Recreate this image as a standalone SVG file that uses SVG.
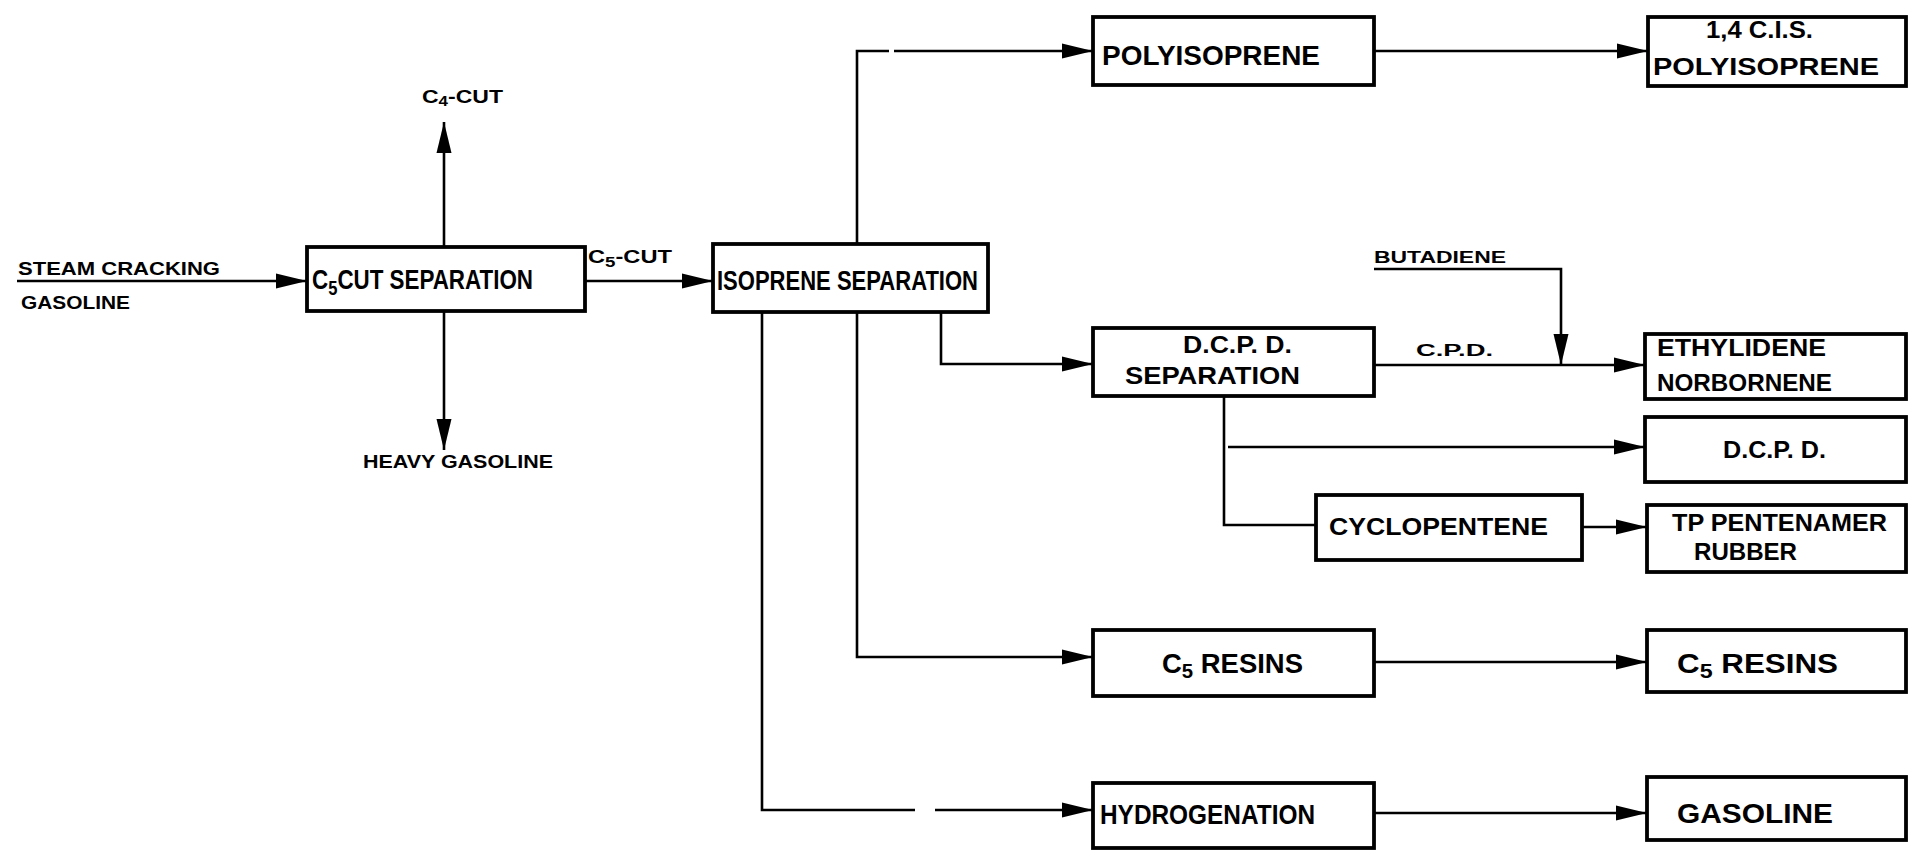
<svg xmlns="http://www.w3.org/2000/svg" width="1910" height="854" viewBox="0 0 1910 854">
<style>
.box{fill:#fff;stroke:#000;stroke-width:3.8}
.ln{fill:none;stroke:#000;stroke-width:2.6}
.ar{marker-end:url(#ah)}
text{font-family:"Liberation Sans","DejaVu Sans",sans-serif;font-weight:bold;fill:#000}
.bt{font-size:27px}
.bt2{font-size:23px}
.lb{font-size:19px}
.sm{font-size:16px}
</style>
<defs>
<marker id="ah" markerUnits="userSpaceOnUse" markerWidth="34" markerHeight="18" refX="31" refY="9" orient="auto">
<path d="M0,1.5 L31,9 L0,16.5 z" fill="#000"/>
</marker>
</defs>
<rect width="1910" height="854" fill="#fff"/>

<g id="connectors">
<line class="ln ar" x1="17" y1="281" x2="307" y2="281"/>
<line class="ln ar" x1="444" y1="247" x2="444" y2="122"/>
<line class="ln ar" x1="444" y1="311" x2="444" y2="450"/>
<line class="ln ar" x1="585" y1="281" x2="713" y2="281"/>
<polyline class="ln" points="857,243 857,51 889,51"/>
<line class="ln ar" x1="894" y1="51" x2="1093" y2="51"/>
<line class="ln ar" x1="1374" y1="51" x2="1648" y2="51"/>
<polyline class="ln ar" points="941,313 941,364 1093,364"/>
<line class="ln ar" x1="1374" y1="365" x2="1645" y2="365"/>
<polyline class="ln ar" points="1374,269 1561,269 1561,365"/>
<polyline class="ln" points="1224,397 1224,525 1316,525"/>
<line class="ln ar" x1="1228" y1="447" x2="1645" y2="447"/>
<line class="ln ar" x1="1582" y1="527" x2="1647" y2="527"/>
<polyline class="ln ar" points="857,313 857,657 1093,657"/>
<line class="ln ar" x1="1374" y1="662" x2="1647" y2="662"/>
<polyline class="ln" points="762,313 762,810 915,810"/>
<line class="ln ar" x1="935" y1="810" x2="1093" y2="810"/>
<line class="ln ar" x1="1374" y1="813" x2="1647" y2="813"/>
</g>

<g id="labels">
<text class="lb" x="18" y="275" textLength="202" lengthAdjust="spacingAndGlyphs">STEAM CRACKING</text>
<text class="lb" x="21" y="309" textLength="109" lengthAdjust="spacingAndGlyphs">GASOLINE</text>
<text class="lb" x="422" y="103" textLength="81" lengthAdjust="spacingAndGlyphs">C<tspan font-size="14" dy="3">4</tspan><tspan dy="-3">-CUT</tspan></text>
<text class="lb" x="363" y="468" textLength="190" lengthAdjust="spacingAndGlyphs">HEAVY GASOLINE</text>
<text class="lb" x="588" y="263" textLength="84" lengthAdjust="spacingAndGlyphs">C<tspan font-size="15" dy="4">5</tspan><tspan dy="-4">-CUT</tspan></text>
<text class="sm" x="1374" y="263" textLength="132" lengthAdjust="spacingAndGlyphs">BUTADIENE</text>
<text class="sm" x="1416" y="356" textLength="77" lengthAdjust="spacingAndGlyphs">C.P.D.</text>
</g>

<g id="c5cut">
<rect class="box" x="307" y="247" width="278" height="64"/>
<text class="bt" x="312" y="289" textLength="221" lengthAdjust="spacingAndGlyphs">C<tspan font-size="20" dy="6">5</tspan><tspan dy="-6">CUT SEPARATION</tspan></text>
</g>
<g id="isoprene">
<rect class="box" x="713" y="244" width="275" height="68"/>
<text class="bt" x="717" y="290" textLength="261" lengthAdjust="spacingAndGlyphs">ISOPRENE SEPARATION</text>
</g>
<g id="polyisoprene">
<rect class="box" x="1093" y="17" width="281" height="68"/>
<text class="bt" x="1102" y="65" textLength="218" lengthAdjust="spacingAndGlyphs">POLYISOPRENE</text>
</g>
<g id="cis">
<rect class="box" x="1648" y="17" width="258" height="69"/>
<text class="bt2" x="1706" y="38" textLength="107" lengthAdjust="spacingAndGlyphs">1,4 C.I.S.</text>
<text class="bt2" x="1653" y="75" textLength="226" lengthAdjust="spacingAndGlyphs">POLYISOPRENE</text>
</g>
<g id="dcpdsep">
<rect class="box" x="1093" y="328" width="281" height="68"/>
<text class="bt2" x="1183" y="353" textLength="109" lengthAdjust="spacingAndGlyphs">D.C.P. D.</text>
<text class="bt2" x="1125" y="384" textLength="175" lengthAdjust="spacingAndGlyphs">SEPARATION</text>
</g>
<g id="enb">
<rect class="box" x="1645" y="334" width="261" height="65"/>
<text class="bt2" x="1657" y="356" textLength="169" lengthAdjust="spacingAndGlyphs">ETHYLIDENE</text>
<text class="bt2" x="1657" y="391" textLength="175" lengthAdjust="spacingAndGlyphs">NORBORNENE</text>
</g>
<g id="dcpd">
<rect class="box" x="1645" y="417" width="261" height="65"/>
<text class="bt2" x="1723" y="458" textLength="103" lengthAdjust="spacingAndGlyphs">D.C.P. D.</text>
</g>
<g id="cyclopentene">
<rect class="box" x="1316" y="495" width="266" height="65"/>
<text class="bt2" x="1329" y="535" textLength="219" lengthAdjust="spacingAndGlyphs">CYCLOPENTENE</text>
</g>
<g id="tprubber">
<rect class="box" x="1647" y="505" width="259" height="67"/>
<text class="bt2" x="1672" y="531" textLength="215" lengthAdjust="spacingAndGlyphs">TP PENTENAMER</text>
<text class="bt2" x="1694" y="560" textLength="103" lengthAdjust="spacingAndGlyphs">RUBBER</text>
</g>
<g id="c5resins">
<rect class="box" x="1093" y="630" width="281" height="66"/>
<text class="bt" x="1162" y="673" textLength="141" lengthAdjust="spacingAndGlyphs">C<tspan font-size="20" dy="5">5</tspan><tspan dy="-5">  RESINS</tspan></text>
</g>
<g id="c5resins2">
<rect class="box" x="1647" y="630" width="259" height="62"/>
<text class="bt" x="1677" y="673" textLength="161" lengthAdjust="spacingAndGlyphs">C<tspan font-size="20" dy="5">5</tspan><tspan dy="-5">  RESINS</tspan></text>
</g>
<g id="hydrogenation">
<rect class="box" x="1093" y="783" width="281" height="65"/>
<text class="bt" x="1100" y="824" textLength="215" lengthAdjust="spacingAndGlyphs">HYDROGENATION</text>
</g>
<g id="gasoline">
<rect class="box" x="1647" y="777" width="259" height="63"/>
<text class="bt" x="1677" y="823" textLength="156" lengthAdjust="spacingAndGlyphs">GASOLINE</text>
</g>
</svg>
